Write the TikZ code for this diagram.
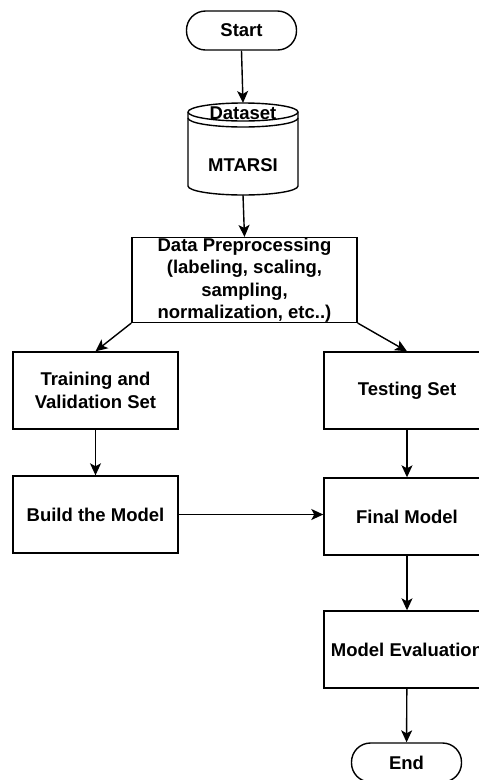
\documentclass[tikz,border=0pt]{standalone}
\usepackage{fontspec}
\setmainfont{Liberation Sans}
\usetikzlibrary{arrows.meta}
\begin{document}
\begin{tikzpicture}[x=1pt,y=-1pt,
  every node/.style={font=\bfseries\fontsize{18.5}{22.5}\selectfont, align=center, inner sep=0pt},
  procbox/.style={draw, line width=1.4pt, rectangle, minimum width=166pt, minimum height=77pt},
  termbox/.style={draw, line width=1.4pt, rectangle, rounded corners=19pt, minimum width=110pt, minimum height=39pt},
  arr/.style={line width=1.4pt, -{Stealth[length=12pt,width=11pt,inset=3pt]}},
  plain/.style={line width=1.4pt}]
\useasboundingbox (0,0) rectangle (479,780);
% Start
\node[termbox] (start) at (241.5,30.5) {Start};
% Dataset cylinder
\node[minimum width=110pt, minimum height=92pt] (ds) at (243,149) {};
\coordinate (dstop) at (243,103);
\coordinate (dsbot) at (243,195);
\draw[plain] (188,112) -- (188,186) arc[start angle=180, end angle=360, x radius=55, y radius=-9] -- (298,112)
  arc[start angle=0, end angle=180, x radius=55, y radius=-9];
\draw[plain] (188,112) arc[start angle=180, end angle=360, x radius=55, y radius=-9];
\draw[plain] (188,118) arc[start angle=180, end angle=360, x radius=55, y radius=-9];
\node at (243,113) {Dataset};
\node at (243,165) {MTARSI};
% Preprocessing
\node[draw, line width=1.4pt, minimum width=225pt, minimum height=84pt] (prep) at (244.5,280) {Data Preprocessing\\(labeling, scaling,\\sampling,\\normalization, etc..)};
% Left column
\node[procbox, minimum width=165pt] (train) at (95.5,390.5) {Training and\\Validation Set};
\node[procbox, minimum width=165pt] (build) at (95.5,514.5) {Build the Model};
% Right column
\node[procbox] (test) at (407,390.5) {Testing Set};
\node[procbox] (final) at (407,516.5) {Final Model};
\node[procbox] (eval) at (407,649.5) {Model Evaluation};
\node[termbox] (end) at (406.5,762.5) {End};
% Connectors
\draw[arr] (start.south) -- (dstop);
\draw[arr] (dsbot) -- (prep.north);
\draw[arr] (prep.south west) -- (train.north);
\draw[arr] (prep.south east) -- (test.north);
\draw[arr] (train) -- (build);
\draw[arr] (build.east) -- (final.west |- build.east);
\draw[arr] (test) -- (final);
\draw[arr] (final) -- (eval);
\draw[arr] (eval) -- (end);
\end{tikzpicture}
\end{document}
